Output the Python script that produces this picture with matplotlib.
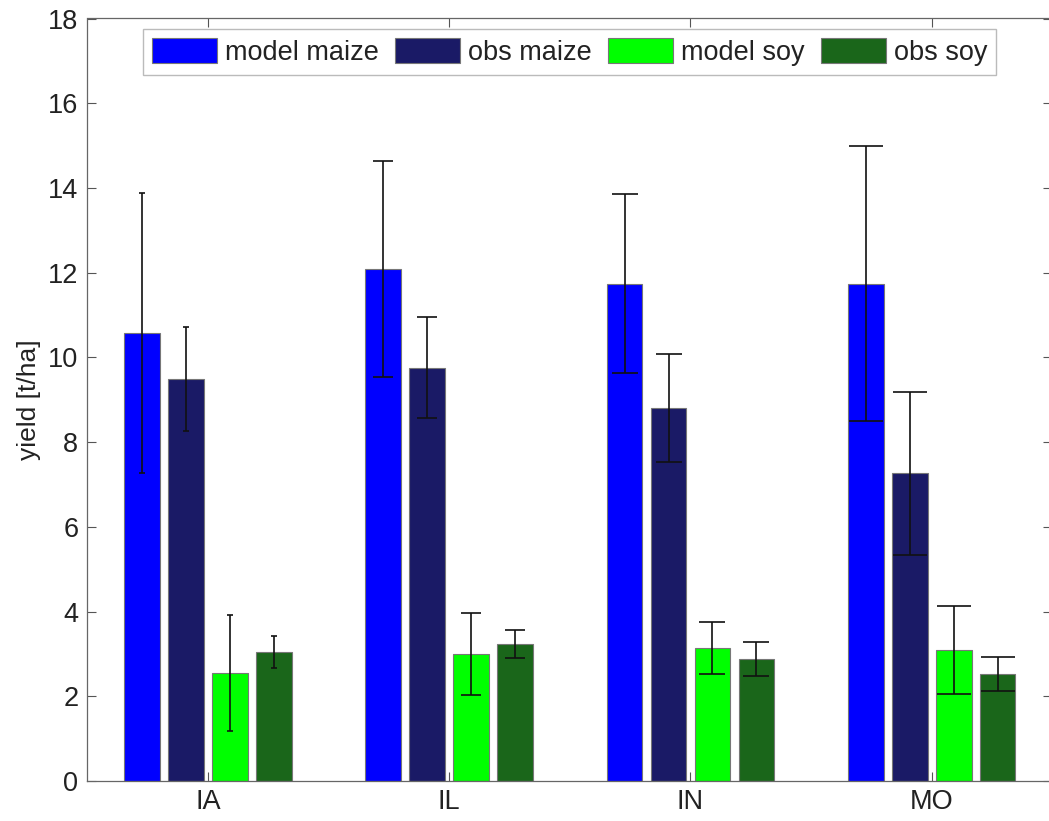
import numpy as np
import matplotlib
matplotlib.use("Agg")
import matplotlib.pyplot as plt

plt.rcParams["font.family"] = ["Liberation Sans", "DejaVu Sans"]

# Data
states = ["IA", "IL", "IN", "MO"]
series = ["model maize", "obs maize", "model soy", "obs soy"]

model_maize = [10.57, 12.08, 11.74, 11.74]
obs_maize = [9.49, 9.76, 8.80, 7.26]
model_soy = [2.56, 3.00, 3.14, 3.09]
obs_soy = [3.05, 3.23, 2.88, 2.52]

model_maize_err = [3.30, 2.55, 2.12, 3.25]
obs_maize_err = [1.22, 1.20, 1.27, 1.93]
model_soy_err = [1.37, 0.96, 0.62, 1.03]
obs_soy_err = [0.38, 0.33, 0.41, 0.40]

yticks = [0, 2, 4, 6, 8, 10, 12, 14, 16, 18]

values = [model_maize, obs_maize, model_soy, obs_soy]
errors = [model_maize_err, obs_maize_err, model_soy_err, obs_soy_err]
colors = ["#0000ff", "#1a1a66", "#00ff00", "#1a661a"]

# cap sizes differ per group in the original figure
capsizes = [2.5, 7.5, 9.5, 12.5]

W, H = 1049, 821
fig = plt.figure(figsize=(W / 100, H / 100), dpi=100)
left, right, top, bottom = 87.3, 1052.4, 18.5, 781
ax = fig.add_axes([left / W, (H - bottom) / H, (right - left) / W, (bottom - top) / H])

x = np.arange(1, len(states) + 1)
pitch = 0.182
width = 0.148
offsets = (np.arange(4) - 1.5) * pitch

for i in range(4):
    ax.bar(x + offsets[i], values[i], width, color=colors[i],
           edgecolor="#777777", linewidth=0.8, label=series[i], zorder=2)

for i in range(4):
    for j in range(len(states)):
        ax.errorbar(x[j] + offsets[i], values[i][j], yerr=errors[i][j],
                    fmt="none", ecolor="#111111", elinewidth=1.2,
                    capsize=capsizes[j], capthick=1.2, zorder=3)

ax.set_xlim(0.5, 4.5)
ax.set_ylim(0, 18)
ax.set_yticks(yticks)
ax.set_xticks(x)
ax.set_xticklabels(states)
ax.set_ylabel("yield [t/ha]", fontsize=19, color="#222222", labelpad=5)

ax.tick_params(direction="in", length=6.5, width=0.8, color="#555555",
               labelsize=19.5, labelcolor="#222222", top=True, right=True)
ax.tick_params(axis="y", pad=6.5)
ax.tick_params(axis="x", pad=6)
for sp in ax.spines.values():
    sp.set_color("#666666")
    sp.set_linewidth(0.9)

leg = ax.legend(loc="upper center", bbox_to_anchor=(0.5, 1 - 11 / 763),
                borderaxespad=0, ncol=4, fontsize=19.5, frameon=True, fancybox=False,
                handlelength=2.4, handleheight=1.05, handletextpad=0.28,
                columnspacing=0.62, borderpad=0.32)
leg.get_frame().set_edgecolor("#aaaaaa")
leg.get_frame().set_linewidth(1.0)
for t in leg.get_texts():
    t.set_color("#222222")

fig.savefig("out.png", dpi=100)
